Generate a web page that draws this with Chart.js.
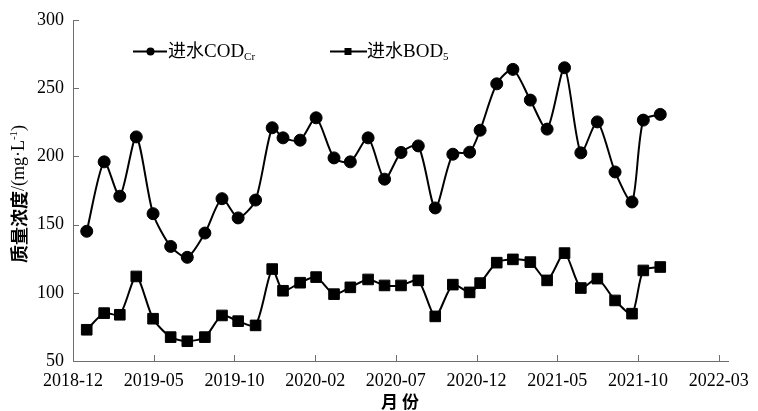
<!DOCTYPE html>
<html>
<head>
<meta charset="utf-8">
<script src="https://cdn.jsdelivr.net/npm/chart.js@4.4.1/dist/chart.umd.min.js"></script>
<style>
  html, body { margin: 0; padding: 0; background: #fff; }
  #wrap { width: 758px; height: 411px; position: relative; }
</style>
</head>
<body>
<div id="wrap"><canvas id="chart-canvas"></canvas></div>
<script>
// month offsets from 2018-12, one per sample
const monthPos = [0.85, 1.93, 2.90, 3.92, 4.96, 6.05, 7.08, 8.17, 9.23, 10.23, 11.31, 12.34,
    13.01, 14.07, 15.06, 16.17, 17.18, 18.28, 19.30, 20.32, 21.39, 22.44, 23.53, 24.57,
    25.22, 26.25, 27.25, 28.33, 29.37, 30.45, 31.46, 32.48, 33.58, 34.63, 35.33, 36.38];
const codValues = [145.1, 196, 170.8, 214.3, 158, 134, 126, 143.8, 169, 154.9, 168, 221,
    213.6, 211.9, 228.3, 198.9, 196, 213.6, 183.3, 202.9, 207.7, 162.2, 201.6, 203.1,
    219.2, 253.2, 263.8, 241.3, 220, 265, 202.6, 225.3, 188.6, 166.6, 226.6, 230.8];
const bodValues = [72.9, 85.1, 83.9, 112, 81, 67.5, 64.5, 67.5, 83.4, 79.2, 76.1, 117.4,
    101.5, 107.4, 111.5, 99, 104, 109.8, 105.4, 105.4, 109.1, 82.7, 106, 100.3,
    107.1, 122.1, 124.5, 122.5, 109.1, 129.1, 103.5, 110.4, 94.4, 84.7, 116.4, 118.9];
const xTickLabels = ['2018-12', '2019-05', '2019-10', '2020-02', '2020-07', '2020-12', '2021-05', '2021-10', '2022-03'];
const yTickValues = [50, 100, 150, 200, 250, 300];

const serif = "'Liberation Serif', 'Noto Sans CJK SC', serif";
const axisColor = '#6e6e6e';

function toPoints(values) {
    return values.map((v, i) => ({ x: monthPos[i], y: v }));
}

// draw a run of text pieces (for sub/superscripts)
function drawRich(ctx, x, y, parts, align) {
    let total = 0;
    parts.forEach(p => {
        ctx.font = p.font;
        p.w = ctx.measureText(p.t).width;
        total += p.w;
    });
    let cx = align === 'center' ? x - total / 2 : x;
    parts.forEach(p => {
        ctx.font = p.font;
        ctx.fillText(p.t, cx, y + (p.dy || 0));
        cx += p.w;
    });
}

const decorPlugin = {
    id: 'decor',
    afterDraw(chart) {
        const ctx = chart.ctx;
        const xs = chart.scales.x;
        const ys = chart.scales.y;
        const area = chart.chartArea;
        ctx.save();
        ctx.strokeStyle = axisColor;
        ctx.lineWidth = 1;
        ctx.beginPath();
        xs.ticks.forEach(t => {
            const px = Math.round(xs.getPixelForValue(t.value)) + 0.5;
            ctx.moveTo(px, area.bottom);
            ctx.lineTo(px, area.bottom - 6);
        });
        ys.ticks.forEach(t => {
            const py = Math.round(ys.getPixelForValue(t.value)) + 0.5;
            ctx.moveTo(area.left, py);
            ctx.lineTo(area.left + 6, py);
        });
        ctx.stroke();

        // legend
        ctx.fillStyle = '#000';
        ctx.strokeStyle = '#000';
        ctx.lineWidth = 2;
        ctx.textBaseline = 'alphabetic';
        ctx.beginPath();
        ctx.moveTo(133, 51.5); ctx.lineTo(167, 51.5);
        ctx.moveTo(330, 51.5); ctx.lineTo(367, 51.5);
        ctx.stroke();
        ctx.beginPath();
        ctx.arc(150.5, 51.5, 4, 0, Math.PI * 2);
        ctx.fill();
        ctx.fillRect(344.5, 48, 7, 7);
        drawRich(ctx, 168, 57, [
            { t: '进水', font: "18px 'Noto Sans CJK SC'" },
            { t: 'COD', font: '19px ' + serif },
            { t: 'Cr', font: '11px ' + serif, dy: 3 }
        ]);
        drawRich(ctx, 367, 57, [
            { t: '进水', font: "18px 'Noto Sans CJK SC'" },
            { t: 'BOD', font: '19px ' + serif },
            { t: '5', font: '11px ' + serif, dy: 3 }
        ]);

        // axis titles
        ctx.textBaseline = 'middle';
        ctx.save();
        ctx.translate(19, 194);
        ctx.rotate(-Math.PI / 2);
        drawRich(ctx, 0, 0, [
            { t: '质量浓度', font: "bold 18px 'Noto Sans CJK SC'" },
            { t: '/(mg·L', font: '18px ' + serif },
            { t: '-1', font: '11px ' + serif, dy: -5 },
            { t: ')', font: '18px ' + serif }
        ], 'center');
        ctx.restore();
        drawRich(ctx, 400, 402, [
            { t: '月 份', font: "bold 17px 'Noto Sans CJK SC'" }
        ], 'center');
        ctx.restore();
    }
};

const ctx = document.getElementById('chart-canvas').getContext('2d');
const myChart = new Chart(ctx, {
    type: 'line',
    data: {
        datasets: [{
            label: '进水COD',
            data: toPoints(codValues),
            borderColor: '#000',
            backgroundColor: '#000',
            borderWidth: 2,
            pointStyle: 'circle',
            pointRadius: 6,
            pointBorderWidth: 1,
            tension: 0.25
        }, {
            label: '进水BOD',
            data: toPoints(bodValues),
            borderColor: '#000',
            backgroundColor: '#000',
            borderWidth: 2,
            pointStyle: 'rect',
            pointRadius: 7.5,
            pointBorderWidth: 1,
            tension: 0.25
        }]
    },
    options: {
        responsive: true,
        maintainAspectRatio: false,
        animation: false,
        layout: { padding: { top: 20, right: 20, left: 0, bottom: 0 } },
        plugins: {
            legend: { display: false },
            tooltip: { enabled: false }
        },
        scales: {
            x: {
                type: 'linear',
                min: 0,
                max: 40.6,
                afterBuildTicks: (scale) => {
                    scale.ticks = xTickLabels.map((lab, i) => ({ value: i * 5 }));
                },
                afterFit: (scale) => { scale.height = 50; },
                ticks: {
                    color: '#000',
                    padding: 9,
                    maxRotation: 0,
                    autoSkip: false,
                    font: { family: serif, size: 18 },
                    callback: (value) => xTickLabels[Math.round(value / 5)]
                },
                grid: { display: false, drawTicks: false },
                border: { display: true, color: axisColor, width: 1 }
            },
            y: {
                min: 50,
                max: 300,
                afterBuildTicks: (scale) => {
                    scale.ticks = yTickValues.map(v => ({ value: v }));
                },
                afterFit: (scale) => { scale.width = 73; },
                ticks: {
                    color: '#000',
                    padding: 9,
                    font: { family: serif, size: 18 }
                },
                grid: { display: false, drawTicks: false },
                border: { display: true, color: axisColor, width: 1 }
            }
        }
    },
    plugins: [decorPlugin]
});
</script>
</body>
</html>
